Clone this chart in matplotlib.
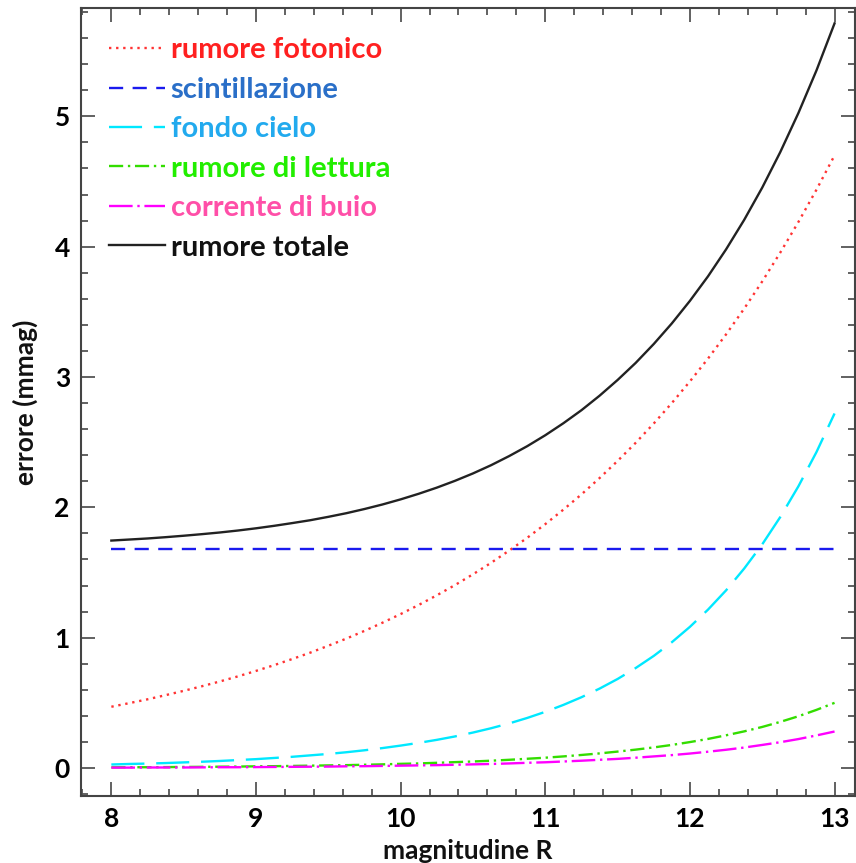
import matplotlib
matplotlib.use("Agg")
import matplotlib.pyplot as plt
from matplotlib.ticker import MultipleLocator

plt.rcParams['font.family'] = ['Lato', 'DejaVu Sans']

# Magnitude grid (R band), 0.125 mag steps
mag = [8.000, 8.125, 8.250, 8.375, 8.500, 8.625, 8.750, 8.875, 9.000, 9.125,
       9.250, 9.375, 9.500, 9.625, 9.750, 9.875, 10.000, 10.125, 10.250, 10.375,
       10.500, 10.625, 10.750, 10.875, 11.000, 11.125, 11.250, 11.375, 11.500, 11.625,
       11.750, 11.875, 12.000, 12.125, 12.250, 12.375, 12.500, 12.625, 12.750, 12.875,
       13.000]

# Error contributions in mmag
rumore_fotonico = [0.470, 0.498, 0.527, 0.559, 0.592, 0.627, 0.664, 0.703, 0.745, 0.789,
                   0.836, 0.885, 0.938, 0.993, 1.052, 1.115, 1.181, 1.251, 1.325, 1.403,
                   1.486, 1.574, 1.668, 1.766, 1.871, 1.982, 2.099, 2.224, 2.356, 2.495,
                   2.643, 2.800, 2.966, 3.141, 3.327, 3.524, 3.733, 3.955, 4.189, 4.437,
                   4.700]
scintillazione = [1.68] * len(mag)
fondo_cielo = [0.027, 0.031, 0.034, 0.038, 0.043, 0.048, 0.054, 0.061, 0.068, 0.077,
               0.086, 0.097, 0.108, 0.121, 0.136, 0.153, 0.172, 0.193, 0.216, 0.242,
               0.272, 0.305, 0.342, 0.384, 0.431, 0.484, 0.543, 0.609, 0.683, 0.767,
               0.860, 0.965, 1.083, 1.215, 1.363, 1.530, 1.716, 1.926, 2.161, 2.424,
               2.720]
rumore_lettura = [0.005, 0.006, 0.006, 0.007, 0.008, 0.009, 0.010, 0.011, 0.013, 0.014,
                  0.016, 0.018, 0.020, 0.022, 0.025, 0.028, 0.032, 0.035, 0.040, 0.045,
                  0.050, 0.056, 0.063, 0.071, 0.079, 0.089, 0.100, 0.112, 0.126, 0.141,
                  0.158, 0.177, 0.199, 0.223, 0.251, 0.281, 0.315, 0.354, 0.397, 0.446,
                  0.500]
corrente_buio = [0.003, 0.003, 0.004, 0.004, 0.004, 0.005, 0.006, 0.006, 0.007, 0.008,
                 0.009, 0.010, 0.011, 0.013, 0.014, 0.016, 0.018, 0.020, 0.022, 0.025,
                 0.028, 0.031, 0.035, 0.040, 0.044, 0.050, 0.056, 0.063, 0.070, 0.079,
                 0.089, 0.099, 0.111, 0.125, 0.140, 0.157, 0.177, 0.198, 0.222, 0.250,
                 0.280]
rumore_totale = [1.745, 1.753, 1.761, 1.771, 1.782, 1.794, 1.807, 1.822, 1.839, 1.858,
                 1.879, 1.901, 1.927, 1.955, 1.987, 2.022, 2.061, 2.104, 2.151, 2.203,
                 2.260, 2.323, 2.393, 2.469, 2.553, 2.645, 2.745, 2.856, 2.977, 3.108,
                 3.253, 3.411, 3.584, 3.772, 3.979, 4.205, 4.453, 4.726, 5.025, 5.352,
                 5.713]

labels = ['rumore fotonico', 'scintillazione', 'fondo cielo',
          'rumore di lettura', 'corrente di buio', 'rumore totale']
label_colors = ['#ff2020', '#2a6fc8', '#22aaee', '#22ee00', '#ff4fa8', '#111111']

fig = plt.figure(figsize=(8.56, 8.63), dpi=100)
ax = fig.add_axes([0.0946, 0.0776, 0.9040, 0.9130])

lines = []
lines += ax.plot(mag, rumore_fotonico, color='#ff3333', lw=1.7, linestyle=(0, (1, 2)))
lines += ax.plot(mag, scintillazione, color='#1a1aee', lw=1.7, linestyle=(0, (6, 4)))
lines += ax.plot(mag, fondo_cielo, color='#00e8ff', lw=1.7, linestyle=(0, (14, 5)))
lines += ax.plot(mag, rumore_lettura, color='#33dd00', lw=1.7, linestyle=(0, (6, 2, 1, 2)))
lines += ax.plot(mag, corrente_buio, color='#ff00ff', lw=1.7, linestyle=(0, (10, 2, 1, 2)))
lines += ax.plot(mag, rumore_totale, color='#222222', lw=1.7, linestyle='-')

ax.set_xlim(7.79, 13.14)
ax.set_ylim(-0.215, 5.83)
ax.xaxis.set_major_locator(MultipleLocator(1))
ax.xaxis.set_minor_locator(MultipleLocator(0.2))
ax.yaxis.set_major_locator(MultipleLocator(1))
ax.yaxis.set_minor_locator(MultipleLocator(0.2))
ax.tick_params(which='both', direction='in', top=True, right=True, color='#555555', width=1.3)
ax.tick_params(which='major', length=10, labelsize=19, pad=8)
ax.tick_params(which='minor', length=5)
for lab in ax.get_xticklabels() + ax.get_yticklabels():
    lab.set_fontweight('bold')
for sp in ax.spines.values():
    sp.set_color('#444444')
    sp.set_linewidth(1.5)

ax.set_xlabel('magnitudine R', fontsize=19, fontweight='bold', color='#111111', labelpad=6)
ax.set_ylabel('errore (mmag)', fontsize=19, fontweight='bold', color='#111111', labelpad=12)

leg = ax.legend(lines, labels, loc='upper left', bbox_to_anchor=(0.014, 0.985),
                frameon=False, handlelength=1.9, handletextpad=0.2,
                labelspacing=0.46, borderaxespad=0.2,
                prop={'weight': 'bold', 'size': 21})
for txt, c in zip(leg.get_texts(), label_colors):
    txt.set_color(c)

fig.savefig('out.png', dpi=100)
